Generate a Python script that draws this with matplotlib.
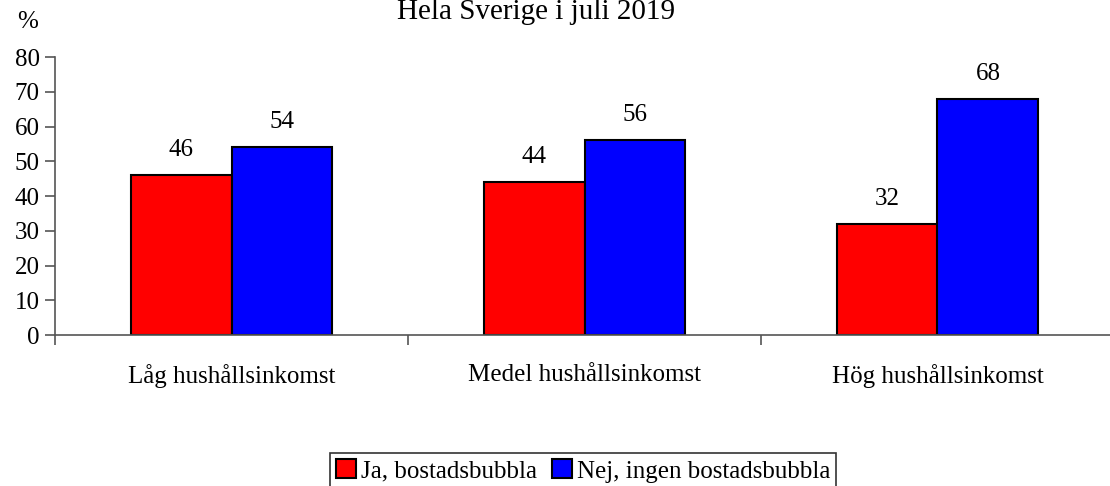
import numpy as np
import matplotlib
matplotlib.use("Agg")
import matplotlib.pyplot as plt
from matplotlib.patches import Patch

categories = ["Låg hushållsinkomst", "Medel hushållsinkomst", "Hög hushållsinkomst"]
ja = [46, 44, 32]
nej = [54, 56, 68]
series_labels = ["Ja, bostadsbubbla", "Nej, ingen bostadsbubbla"]
yticks = [0, 10, 20, 30, 40, 50, 60, 70, 80]

plt.rcParams["font.family"] = ["Liberation Serif", "DejaVu Serif"]
FS = 18

fig = plt.figure(figsize=(11.10, 4.86), dpi=100)
ax = fig.add_axes([55 / 1110, 1 - 335 / 486, (1114 - 55) / 1110, (335 - 57) / 486])

x = np.arange(len(categories))
w = 0.286
b1 = ax.bar(x - w / 2, ja, w, color="#ff0000", edgecolor="black", lw=1.5)
b2 = ax.bar(x + w / 2, nej, w, color="#0000ff", edgecolor="black", lw=1.5)
for bars, vals in ((b1, ja), (b2, nej)):
    for r, v in zip(bars, vals):
        ax.annotate(str(v), (r.get_x() + r.get_width() / 2, v), xytext=(0, 18),
                    textcoords="offset points", ha="center", va="center", fontsize=FS)

ax.set_xlim(-0.5, len(categories) - 0.5)
ax.set_ylim(0, 80)
ax.set_yticks(yticks)
ax.set_xticks(x)
ax.set_xticklabels(categories)
ax.set_xticks(np.arange(len(categories) + 1) - 0.5, minor=True)
ax.tick_params(axis="x", which="major", length=0, pad=21, labelsize=FS)
ax.tick_params(axis="x", which="minor", length=7, width=1.2, color="#555555", direction="out")
ax.tick_params(axis="y", length=7, width=1.2, color="#555555", labelsize=FS, pad=4)
for s in ("top", "right"):
    ax.spines[s].set_visible(False)
for s in ("left", "bottom"):
    ax.spines[s].set_color("#555555")
    ax.spines[s].set_linewidth(1.2)

fig.text(536 / 1110, 1 - 12 / 486, "Hela Sverige i juli 2019", ha="center", va="center", fontsize=21)
fig.text(28 / 1110, 1 - 22 / 486, "%", ha="center", va="center", fontsize=FS)

handles = [Patch(facecolor="#ff0000", edgecolor="black", lw=1.5),
           Patch(facecolor="#0000ff", edgecolor="black", lw=1.5)]
leg = fig.legend(handles, series_labels, loc="upper center", bbox_to_anchor=(583 / 1110, 1 - 453 / 486),
                 ncol=2, fontsize=FS, frameon=True, fancybox=False, handlelength=0.8, handleheight=0.8,
                 handletextpad=0.2, columnspacing=0.6, borderpad=0.25, borderaxespad=0)
leg.get_frame().set_edgecolor("black")
leg.get_frame().set_linewidth(1.2)

fig.savefig("out.png", dpi=100)
